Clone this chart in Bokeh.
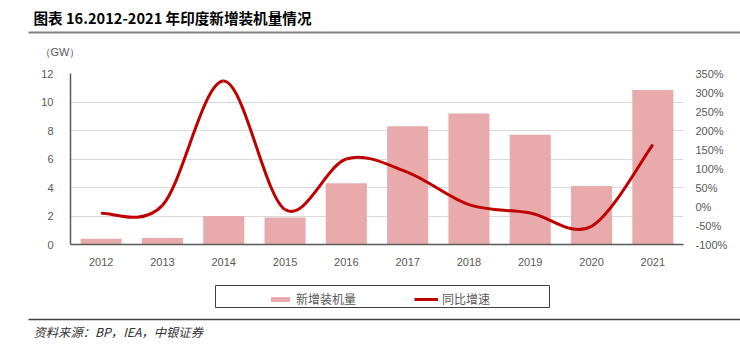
from bokeh.plotting import figure
from bokeh.layouts import column, row
from bokeh.models import (Range1d, LinearAxis, FixedTicker, PrintfTickFormatter,
                          Legend, LegendItem)
from bokeh.core.properties import value
from bokeh.embed import file_html
from bokeh.resources import INLINE

years = ["2012", "2013", "2014", "2015", "2016", "2017", "2018", "2019", "2020", "2021"]
capacity = [0.4, 0.45, 2.0, 1.9, 4.3, 8.3, 9.2, 7.7, 4.1, 10.85]
growth = [-18, 3, 330, -8, 125, 90, 5, -17, -52, 163]
left_ticks = [0, 2, 4, 6, 8, 10, 12]
right_ticks = [-100, -50, 0, 50, 100, 150, 200, 250, 300, 350]

W = 740
HEAD_H, MAIN_H, FOOT_H = 60, 215, 77
FL, FR, FT, FB = 70, 683, 73, 244  # frame edges on the page

TICK_COLOR = "#595959"
FONT = "Liberation Sans"
CJK = "Noto Sans CJK SC"
BAR_COLOR = "#e8aaaa"
LINE_COLOR = "#c00000"


def blank(height, y0):
    f = figure(width=W, height=height, output_backend="svg", toolbar_location=None,
               x_range=Range1d(0, W), y_range=Range1d(y0 + height, y0),
               x_axis_type=None, y_axis_type=None, min_border=0)
    f.outline_line_color = None
    f.xgrid.visible = False
    f.ygrid.visible = False
    return f


# ---------- header ----------
head = blank(HEAD_H, 0)
head.text(x=[33], y=[17], text=["图表 16.2012-2021 年印度新增装机量情况"],
          text_font=value(CJK), text_font_size="14.6px", text_font_style="bold",
          text_color="#000000", text_baseline="middle")
head.segment(x0=[28], y0=[32], x1=[W], y1=[32], line_color="#808080", line_width=2)
head.text(x=[39], y=[51], text=["（GW）"], text_font=value(FONT), text_font_size="11px",
          text_color=TICK_COLOR, text_baseline="middle")

# ---------- main chart ----------
idx = list(range(len(years)))
p = figure(width=W, height=MAIN_H, output_backend="svg", toolbar_location=None,
           x_range=Range1d(-0.5, len(years) - 0.5), y_range=Range1d(0, 12),
           min_border_left=FL, min_border_right=W - FR,
           min_border_top=FT - HEAD_H, min_border_bottom=HEAD_H + MAIN_H - FB)
p.outline_line_color = None
p.extra_y_ranges = {"pct": Range1d(-100, 350)}

xa = p.xaxis[0]
xa.ticker = FixedTicker(ticks=idx)
xa.major_label_overrides = {i: y for i, y in zip(idx, years)}
xa.major_tick_line_color = None
xa.minor_tick_line_color = None
xa.axis_line_color = "#595959"
xa.axis_line_width = 1.5
xa.major_label_text_font = FONT
xa.major_label_text_font_size = "11px"
xa.major_label_text_color = TICK_COLOR
xa.major_label_standoff = 7

ya = p.yaxis[0]
ya.ticker = FixedTicker(ticks=left_ticks)
ya.major_tick_line_color = None
ya.minor_tick_line_color = None
ya.axis_line_color = "#595959"
ya.axis_line_width = 1.5
ya.major_label_text_font = FONT
ya.major_label_text_font_size = "11px"
ya.major_label_text_color = TICK_COLOR
ya.major_label_standoff = 11

ra = LinearAxis(y_range_name="pct", ticker=FixedTicker(ticks=right_ticks),
                formatter=PrintfTickFormatter(format="%d%%"))
ra.major_tick_line_color = None
ra.minor_tick_line_color = None
ra.axis_line_color = None
ra.major_label_text_font = FONT
ra.major_label_text_font_size = "11px"
ra.major_label_text_color = TICK_COLOR
ra.major_label_standoff = 6
p.add_layout(ra, "right")

p.xgrid.grid_line_color = None
p.ygrid.ticker = FixedTicker(ticks=left_ticks)
p.ygrid.grid_line_color = "#d9d9d9"
p.ygrid.grid_line_width = 1

p.vbar(x=idx, top=capacity, width=0.67, fill_color=BAR_COLOR, line_color=None)

# smooth line (cubic Bezier, Catmull-Rom style control points)
n = len(growth)
x0s, y0s, x1s, y1s, cx0s, cy0s, cx1s, cy1s = [], [], [], [], [], [], [], []
for i in range(n - 1):
    xm, ym = idx[max(i - 1, 0)], growth[max(i - 1, 0)]
    xa_, ya_ = idx[i], growth[i]
    xb, yb = idx[i + 1], growth[i + 1]
    xp, yp = idx[min(i + 2, n - 1)], growth[min(i + 2, n - 1)]
    x0s.append(xa_); y0s.append(ya_); x1s.append(xb); y1s.append(yb)
    cx0s.append(xa_ + (xb - xm) / 6); cy0s.append(ya_ + (yb - ym) / 6)
    cx1s.append(xb - (xp - xa_) / 6); cy1s.append(yb - (yp - ya_) / 6)
p.bezier(x0=x0s, y0=y0s, x1=x1s, y1=y1s, cx0=cx0s, cy0=cy0s, cx1=cx1s, cy1=cy1s,
         line_color=LINE_COLOR, line_width=3, y_range_name="pct")

# ---------- footer ----------
y_top = HEAD_H + MAIN_H
foot = blank(FOOT_H, y_top)
foot.quad(left=[215], right=[549], top=[285], bottom=[307], fill_color=None,
          line_color="#404040", line_width=1)
# hidden one-point renderers (outside the visible range) that give the legend its swatches
lg_bar = foot.vbar(x=[-100], top=[-100], width=1, fill_color=BAR_COLOR, line_color=None)
lg_line = foot.line(x=[-100, -90], y=[-100, -100], line_color=LINE_COLOR, line_width=3)
legend = Legend(items=[LegendItem(label="新增装机量", renderers=[lg_bar]),
                       LegendItem(label="同比增速", renderers=[lg_line])],
                orientation="horizontal", location=(268, FOOT_H - (307 - y_top)),
                padding=4, margin=0, spacing=58, glyph_width=24, glyph_height=6,
                label_width=60, label_height=14, label_standoff=4,
                label_text_font=CJK, label_text_font_size="12px",
                label_text_color="#595959", border_line_color=None,
                background_fill_alpha=0.0)
foot.add_layout(legend, "center")
foot.segment(x0=[28], y0=[319], x1=[W], y1=[319], line_color="#404040", line_width=1.5)
foot.text(x=[33], y=[331], text=["资料来源：BP，IEA，中银证券"], text_font=value(CJK),
          text_font_size="12.3px", text_font_style="italic", text_color="#333333",
          text_baseline="middle")

layout = column(row(head), p, row(foot), spacing=0)
open("out.html", "w").write(file_html(layout, INLINE))
